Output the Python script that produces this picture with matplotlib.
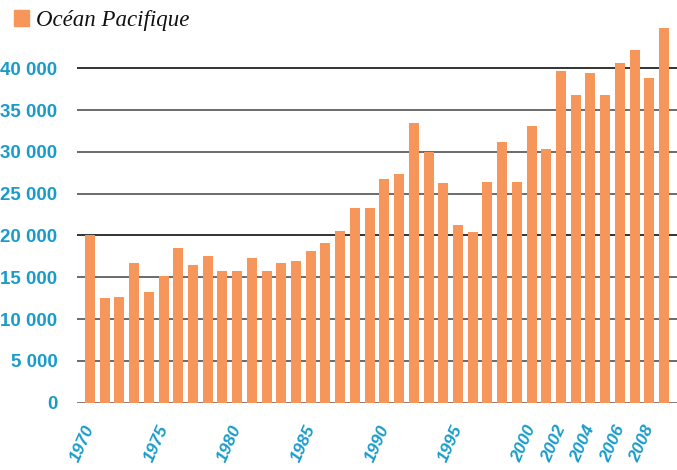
import matplotlib
matplotlib.use("Agg")
import matplotlib.pyplot as plt
from matplotlib.patches import Rectangle
import matplotlib.transforms as mtransforms

years = list(range(1970, 2010))
values = [20100, 12500, 12700, 16650, 13250, 15200, 18450, 16500, 17500, 15800,
          15800, 17250, 15800, 16650, 16900, 18200, 19050, 20500, 23250, 23250,
          26700, 27300, 33400, 30000, 26250, 21250, 20400, 26450, 31200, 26350,
          33100, 30400, 39700, 36850, 39450, 36750, 40600, 42150, 38850, 44850]
tick_years = [1970, 1975, 1980, 1985, 1990, 1995, 2000, 2002, 2004, 2006, 2008]
yticks = [0, 5000, 10000, 15000, 20000, 25000, 30000, 35000, 40000]
series_name = "Océan Pacifique"

ORANGE = "#F7965A"
BLUE = "#1A9CCA"

def fmt(v):
    return f"{v:,}".replace(",", " ")

fig = plt.figure(figsize=(6.77, 4.70), dpi=100)
ax = fig.add_axes([77/677, 67.3/470, 600/677, 384.6/470])
ax.set_xlim(1969.12, 2009.88)
ax.set_ylim(0, 46000)

for v in yticks:
    if v == 0:
        ax.axhline(v, color="#707070", lw=2.0, zorder=1)
    elif v in (20000, 40000):
        ax.axhline(v, color="#111111", lw=1.2, zorder=1)
    else:
        ax.axhline(v, color="#6a6a6a", lw=1.4, zorder=1)

ax.bar(years, values, width=0.68, color=ORANGE, zorder=2)

for s in ax.spines.values():
    s.set_visible(False)
ax.set_xticks([])
ax.set_yticks(yticks)
ax.set_yticklabels([fmt(v) for v in yticks], color=BLUE, fontsize=13.5,
                   fontweight="bold", family="Liberation Sans")
ax.tick_params(axis="y", length=0, pad=14)

trans = mtransforms.blended_transform_factory(ax.transData, ax.transAxes)
for y in tick_years:
    ax.text(y + 0.5, -20/384.6, str(y), transform=trans, rotation=66,
            ha="right", va="top", color=BLUE, fontsize=12.5, fontweight="bold",
            fontstyle="italic", family="Liberation Sans")

fig.patches.append(Rectangle((14/677, 1 - 26/470), 15/677, 16/470,
                             transform=fig.transFigure, color=ORANGE))
fig.text(36/677, 1 - 26/470, series_name, fontsize=16.5, fontstyle="italic",
         family="Liberation Serif", color="#111111", va="baseline", ha="left")

fig.savefig("out.png", dpi=100)
